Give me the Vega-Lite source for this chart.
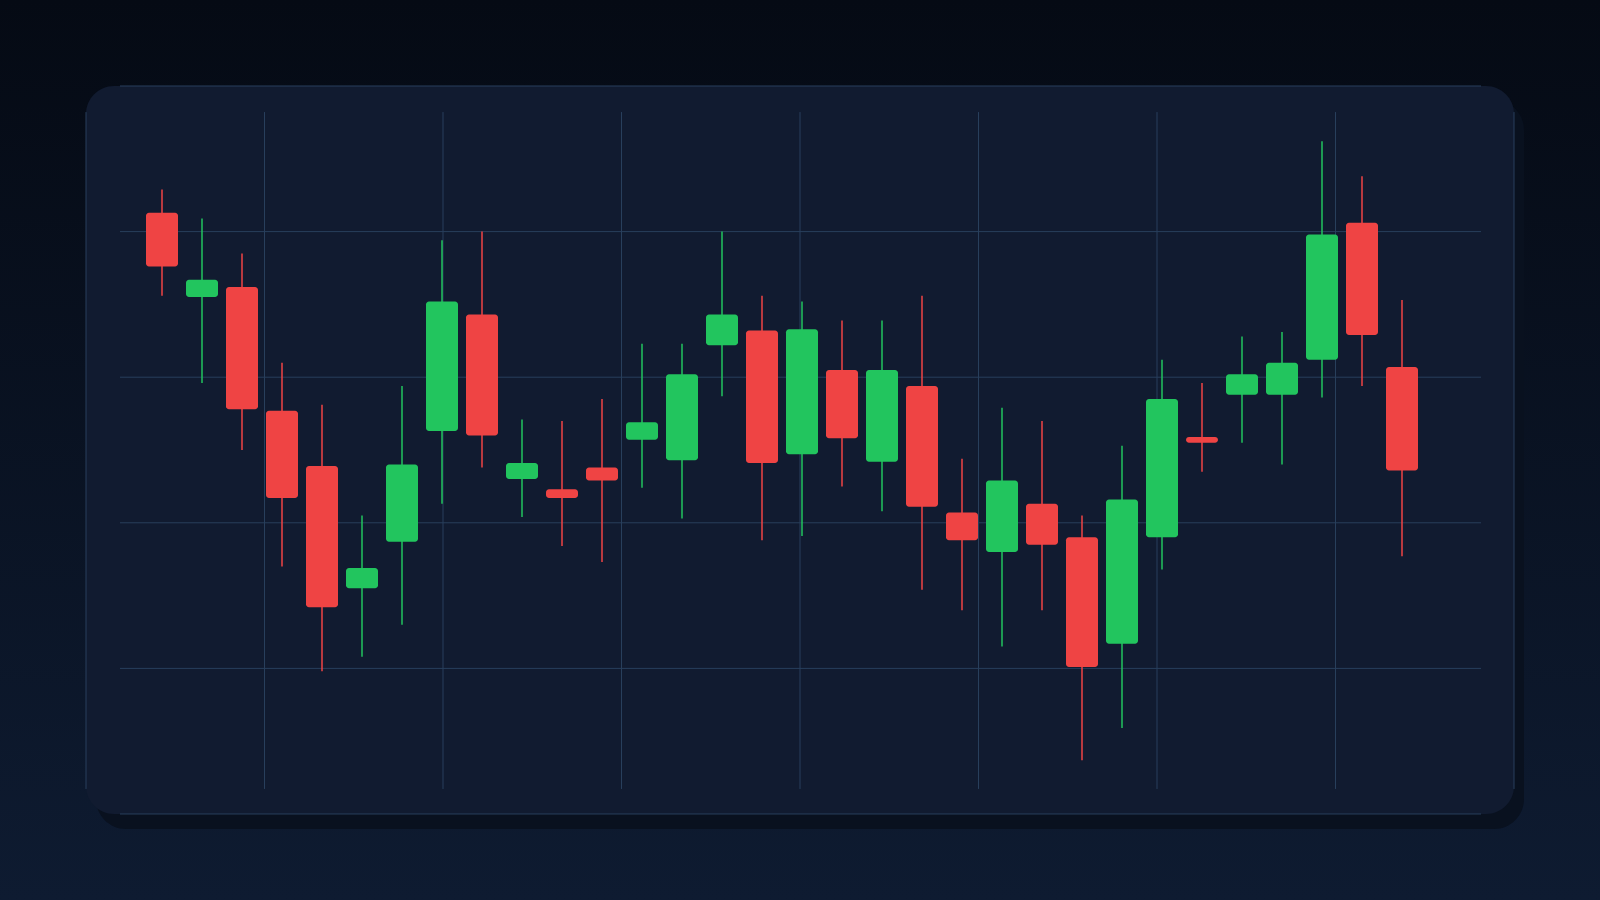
{
  "$schema": "https://vega.github.io/schema/vega-lite/v6.json",
  "width": 1600,
  "height": 900,
  "padding": 0,
  "autosize": {"type": "none"},
  "background": "#0a1322",
  "config": {
    "view": {"stroke": null, "fill": null},
    "axis": {"disable": true}
  },
  "data": {
    "values": [
      {"i": 0, "open": 141.3, "high": 142.9, "low": 135.6, "close": 137.6},
      {"i": 1, "open": 135.5, "high": 140.9, "low": 129.6, "close": 136.7},
      {"i": 2, "open": 136.2, "high": 138.5, "low": 125.0, "close": 127.8},
      {"i": 3, "open": 127.7, "high": 131.0, "low": 117.0, "close": 121.7},
      {"i": 4, "open": 123.9, "high": 128.1, "low": 109.8, "close": 114.2},
      {"i": 5, "open": 115.5, "high": 120.5, "low": 110.8, "close": 116.9},
      {"i": 6, "open": 118.7, "high": 129.4, "low": 113.0, "close": 124.0},
      {"i": 7, "open": 126.3, "high": 139.4, "low": 121.3, "close": 135.2},
      {"i": 8, "open": 134.3, "high": 140.0, "low": 123.8, "close": 126.0},
      {"i": 9, "open": 123.0, "high": 127.1, "low": 120.4, "close": 124.1},
      {"i": 10, "open": 122.3, "high": 127.0, "low": 118.4, "close": 121.7},
      {"i": 11, "open": 123.8, "high": 128.5, "low": 117.3, "close": 122.9},
      {"i": 12, "open": 125.7, "high": 132.3, "low": 122.4, "close": 126.9},
      {"i": 13, "open": 124.3, "high": 132.3, "low": 120.3, "close": 130.2},
      {"i": 14, "open": 132.2, "high": 140.0, "low": 128.7, "close": 134.3},
      {"i": 15, "open": 133.2, "high": 135.6, "low": 118.8, "close": 124.1},
      {"i": 16, "open": 124.7, "high": 135.2, "low": 119.1, "close": 133.3},
      {"i": 17, "open": 130.5, "high": 133.9, "low": 122.5, "close": 125.8},
      {"i": 18, "open": 124.2, "high": 133.9, "low": 120.8, "close": 130.5},
      {"i": 19, "open": 129.4, "high": 135.6, "low": 115.4, "close": 121.1},
      {"i": 20, "open": 120.7, "high": 124.4, "low": 114.0, "close": 118.8},
      {"i": 21, "open": 118.0, "high": 127.9, "low": 111.5, "close": 122.9},
      {"i": 22, "open": 121.3, "high": 127.0, "low": 114.0, "close": 118.5},
      {"i": 23, "open": 119.0, "high": 120.5, "low": 103.7, "close": 110.1},
      {"i": 24, "open": 111.7, "high": 125.3, "low": 105.9, "close": 121.6},
      {"i": 25, "open": 119.0, "high": 131.2, "low": 116.8, "close": 128.5},
      {"i": 26, "open": 125.9, "high": 129.6, "low": 123.5, "close": 125.5},
      {"i": 27, "open": 128.8, "high": 132.8, "low": 125.5, "close": 130.2},
      {"i": 28, "open": 128.8, "high": 133.1, "low": 124.0, "close": 131.0},
      {"i": 29, "open": 131.2, "high": 146.2, "low": 128.6, "close": 139.8},
      {"i": 30, "open": 140.6, "high": 143.8, "low": 129.4, "close": 132.9},
      {"i": 31, "open": 130.7, "high": 135.3, "low": 117.7, "close": 123.6}
    ]
  },
  "layer": [
    {
      "data": {"values": [{}]},
      "mark": {
        "type": "rect",
        "fill": {
          "gradient": "linear",
          "x1": 0, "y1": 0, "x2": 0, "y2": 1,
          "stops": [
            {"offset": 0, "color": "#050a14"},
            {"offset": 1, "color": "#0e1b31"}
          ]
        }
      },
      "encoding": {
        "x": {"datum": -4.05, "type": "quantitative", "scale": {"domain": [-4.05, 35.95], "nice": false, "zero": false, "padding": 0}},
        "x2": {"datum": 35.95},
        "y": {"datum": 94.0934, "type": "quantitative", "scale": {"domain": [94.0934, 155.9066], "nice": false, "zero": false, "padding": 0}},
        "y2": {"datum": 155.9066}
      }
    },
    {
      "data": {"values": [{}]},
      "mark": {"type": "rect", "fill": "#09111f", "cornerRadius": 30},
      "encoding": {
        "x": {"datum": -1.65, "type": "quantitative"},
        "x2": {"datum": 34.05},
        "y": {"datum": 98.97, "type": "quantitative"},
        "y2": {"datum": 149.04}
      }
    },
    {
      "data": {"values": [{}]},
      "mark": {"type": "rect", "fill": "#111b30", "cornerRadius": 28},
      "encoding": {
        "x": {"datum": -1.9, "type": "quantitative"},
        "x2": {"datum": 33.8},
        "y": {"datum": 100, "type": "quantitative"},
        "y2": {"datum": 150}
      }
    },
    {
      "data": {"values": [{"level": 100}, {"level": 110}, {"level": 120}, {"level": 130}, {"level": 140}, {"level": 150}]},
      "mark": {"type": "rule", "color": "#283f5c", "strokeWidth": 1},
      "encoding": {
        "y": {"field": "level", "type": "quantitative"},
        "x": {"datum": -1.05, "type": "quantitative"},
        "x2": {"datum": 32.975}
      }
    },
    {
      "data": {"values": [{"pos": -1.9}, {"pos": 2.5625}, {"pos": 7.025}, {"pos": 11.4875}, {"pos": 15.95}, {"pos": 20.4125}, {"pos": 24.875}, {"pos": 29.3375}, {"pos": 33.8}]},
      "mark": {"type": "rule", "color": "#283f5c", "strokeWidth": 1},
      "encoding": {
        "x": {"field": "pos", "type": "quantitative"},
        "y": {"datum": 101.72, "type": "quantitative"},
        "y2": {"datum": 148.21}
      }
    },
    {
      "mark": {"type": "rule", "strokeWidth": 1.5},
      "encoding": {
        "x": {"field": "i", "type": "quantitative"},
        "y": {"field": "low", "type": "quantitative"},
        "y2": {"field": "high"},
        "color": {
          "condition": {"test": "datum.close >= datum.open", "value": "#22c55e"},
          "value": "#ef4444"
        }
      }
    },
    {
      "mark": {"type": "bar", "width": 32, "cornerRadius": 3},
      "encoding": {
        "x": {"field": "i", "type": "quantitative"},
        "y": {"field": "open", "type": "quantitative"},
        "y2": {"field": "close"},
        "color": {
          "condition": {"test": "datum.close >= datum.open", "value": "#22c55e"},
          "value": "#ef4444"
        }
      }
    }
  ]
}
